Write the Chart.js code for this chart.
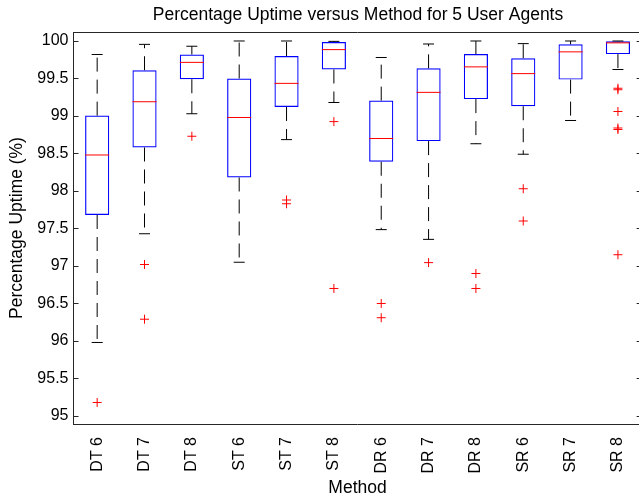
<!DOCTYPE html>
<html lang="en">
  <head>
    <meta charset="UTF-8">
    <meta name="viewport" content="width=device-width, initial-scale=1.0">
    <title>Percentage Uptime versus Method</title>
    <script src="https://cdn.jsdelivr.net/npm/chart.js"></script>
    <style>
      body { margin: 0; overflow: hidden; background: #fff; }
    </style>
  </head>

  <body>
    <canvas id="grafico" width="716" height="501"></canvas>

    <script>
      // box plot values
      let metodos = ["DT 6", "DT 7", "DT 8", "ST 6", "ST 7", "ST 8", "DR 6", "DR 7", "DR 8", "SR 6", "SR 7", "SR 8"]
      let bigodeSup = [99.82, 99.955, 99.93, 100.0, 100.0, 99.995, 99.78, 99.96, 100.0, 99.965, 100.0, 100.0]
      let quartil3  = [99.005, 99.61, 99.82, 99.50, 99.80, 99.985, 99.205, 99.635, 99.825, 99.77, 99.955, 99.995]
      let mediana   = [98.48, 99.19, 99.715, 98.98, 99.435, 99.885, 98.70, 99.315, 99.655, 99.565, 99.855, 99.975]
      let quartil1  = [97.68, 98.58, 99.49, 98.18, 99.12, 99.62, 98.39, 98.665, 99.225, 99.13, 99.485, 99.825]
      let bigodeInf = [95.98, 97.43, 99.03, 97.05, 98.685, 99.18, 97.485, 97.355, 98.63, 98.49, 98.94, 99.62]
      let outliers  = [
        [95.18],
        [97.02, 96.29],
        [98.73],
        [],
        [97.88, 97.83],
        [98.925, 96.70],
        [96.50, 96.31],
        [97.045],
        [96.90, 96.70],
        [98.03, 97.60],
        [],
        [99.37, 99.35, 99.06, 98.84, 98.82, 97.15]
      ]
      let yTicks = [95, 95.5, 96, 96.5, 97, 97.5, 98, 98.5, 99, 99.5, 100]

      const eixoCor = "#262626"
      Chart.defaults.font.family = "'Liberation Sans', Arial, sans-serif"
      Chart.defaults.font.size = 16
      Chart.defaults.color = "#000"

      // build the datasets from the arrays
      let caixas = metodos.map((m, i) => [quartil1[i], quartil3[i]])
      let bigodes = []
      let tampas = []
      metodos.forEach((m, i) => {
        bigodes.push({x: m, y: quartil3[i]}, {x: m, y: bigodeSup[i]}, {x: m, y: null})
        bigodes.push({x: m, y: quartil1[i]}, {x: m, y: bigodeInf[i]}, {x: m, y: null})
        tampas.push({x: m, y: bigodeSup[i]}, {x: m, y: bigodeInf[i]})
      })
      let medianas = metodos.map((m, i) => ({x: m, y: mediana[i]}))
      let pontos = []
      metodos.forEach((m, i) => outliers[i].forEach(v => pontos.push({x: m, y: v})))

      // frame top line + inward ticks like the original
      const moldura = {
        id: 'moldura',
        afterDraw(chart) {
          const {ctx, chartArea: a, scales} = chart
          ctx.save()
          ctx.strokeStyle = eixoCor
          ctx.lineWidth = 1
          ctx.beginPath()
          ctx.moveTo(a.left, a.top + 0.5)
          ctx.lineTo(a.right, a.top + 0.5)
          yTicks.forEach(v => {
            const y = Math.round(scales.y.getPixelForValue(v)) + 0.5
            ctx.moveTo(a.left, y)
            ctx.lineTo(a.left + 5, y)
            ctx.moveTo(a.right - 5, y)
            ctx.lineTo(a.right, y)
          })
          ctx.stroke()
          ctx.restore()
        }
      }

      const ctx = document.getElementById('grafico')

      let grafico = new Chart(ctx, {
        type: 'bar',
        data: {
          labels: metodos,
          datasets: [
            {
              type: 'line',
              data: pontos,
              showLine: false,
              pointStyle: 'cross',
              pointRadius: 4.5,
              pointBorderColor: '#ff0000',
              pointBorderWidth: 1,
              order: 0
            },
            {
              type: 'line',
              data: medianas,
              showLine: false,
              pointStyle: 'line',
              pointRadius: 12,
              pointBorderColor: '#ff0000',
              pointBorderWidth: 1,
              order: 1
            },
            {
              type: 'line',
              data: tampas,
              showLine: false,
              pointStyle: 'line',
              pointRadius: 5.5,
              pointBorderColor: '#000',
              pointBorderWidth: 1,
              order: 2
            },
            {
              type: 'line',
              data: bigodes,
              borderColor: '#000',
              borderWidth: 1,
              borderDash: [14, 8],
              pointRadius: 0,
              spanGaps: false,
              order: 3
            },
            {
              type: 'bar',
              data: caixas,
              backgroundColor: 'rgba(0,0,0,0)',
              borderColor: '#0000ff',
              borderWidth: 1.2,
              borderSkipped: false,
              barPercentage: 0.51,
              categoryPercentage: 1,
              order: 4
            }
          ]
        },
        options: {
          responsive: false,
          animation: false,
          events: [],
          layout: { padding: 0 },
          plugins: {
            legend: { display: false },
            tooltip: { enabled: false },
            title: {
              display: true,
              text: 'Percentage Uptime versus Method for 5 User Agents',
              font: { size: 17.5, weight: 'normal' },
              color: '#000',
              padding: { top: 4.5, bottom: 6.5 }
            }
          },
          scales: {
            x: {
              type: 'category',
              offset: true,
              grid: { display: true, drawOnChartArea: false, drawTicks: false },
              border: { display: true, color: eixoCor },
              ticks: { minRotation: 90, maxRotation: 90, padding: 13, autoSkip: false },
              title: { display: true, text: 'Method', font: { size: 17.5 }, padding: { top: 0, bottom: 2.5 } },
              afterFit: s => { s.height = 77 }
            },
            y: {
              min: 94.893,
              max: 100.12,
              grid: { display: true, drawOnChartArea: false, drawTicks: false },
              border: { display: true, color: eixoCor },
              afterBuildTicks: s => { s.ticks = yTicks.map(v => ({value: v})) },
              ticks: { padding: 5, callback: v => String(v) },
              title: { display: true, text: 'Percentage Uptime (%)', font: { size: 17.5 }, padding: { top: 6.5, bottom: 0 } },
              afterFit: s => { s.width = 73.5 }
            },
            y2: {
              position: 'right',
              display: true,
              min: 94.893,
              max: 100.12,
              grid: { display: true, drawOnChartArea: false, drawTicks: false },
              border: { display: true, color: eixoCor },
              ticks: { display: false },
              afterFit: s => { s.width = 74.4 }
            }
          }
        },
        plugins: [moldura]
      })
    </script>
  </body>
</html>
